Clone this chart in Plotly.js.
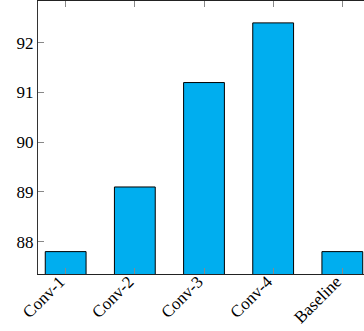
<!DOCTYPE html>
<html><head><meta charset="utf-8">
<script src="https://cdn.plot.ly/plotly-3.0.1.min.js"></script>
<style>html,body{margin:0;padding:0;overflow:hidden;background:#fff;}#chart{width:372px;height:331px;}</style>
</head><body><div id="chart"></div>
<script>
const categories = ["Conv-1", "Conv-2", "Conv-3", "Conv-4", "Baseline"];
const accuracy = [87.8, 89.1, 91.2, 92.4, 87.8];
const yTicks = [88, 89, 90, 91, 92];

const trace = {
  type: 'bar',
  x: categories,
  y: accuracy,
  width: 0.59,
  marker: {color: '#00AEEF', line: {color: '#000', width: 1}},
  hoverinfo: 'none'
};
const fam = 'Times New Roman, Liberation Serif, serif';
const font = {family: fam, size: 17, color: '#000'};
const layout = {
  width: 372, height: 331,
  margin: {l: 38, r: 2, t: 1, b: 57},
  paper_bgcolor: '#fff', plot_bgcolor: '#fff',
  showlegend: false,
  font: font,
  xaxis: {
    type: 'category', range: [-0.4, 4.4],
    showline: true, linecolor: '#222', linewidth: 1, mirror: 'ticks',
    ticks: 'inside', ticklen: 6, tickcolor: '#888', tickwidth: 1,
    tickangle: -45, tickfont: {family: fam, size: 17, color: '#000'},
    ticklabelstandoff: -10, ticklabelshift: -6,
    showgrid: false, zeroline: false
  },
  yaxis: {
    range: [87.35, 92.84],
    tickvals: yTicks, ticktext: yTicks.map(String),
    showline: true, linecolor: '#333', linewidth: 1, mirror: 'ticks',
    ticks: 'inside', ticklen: 6, tickcolor: '#888', tickwidth: 1,
    tickfont: font, showgrid: false, zeroline: false
  }
};
Plotly.newPlot('chart', [trace], layout, {staticPlot: true, displayModeBar: false});
</script></body></html>
